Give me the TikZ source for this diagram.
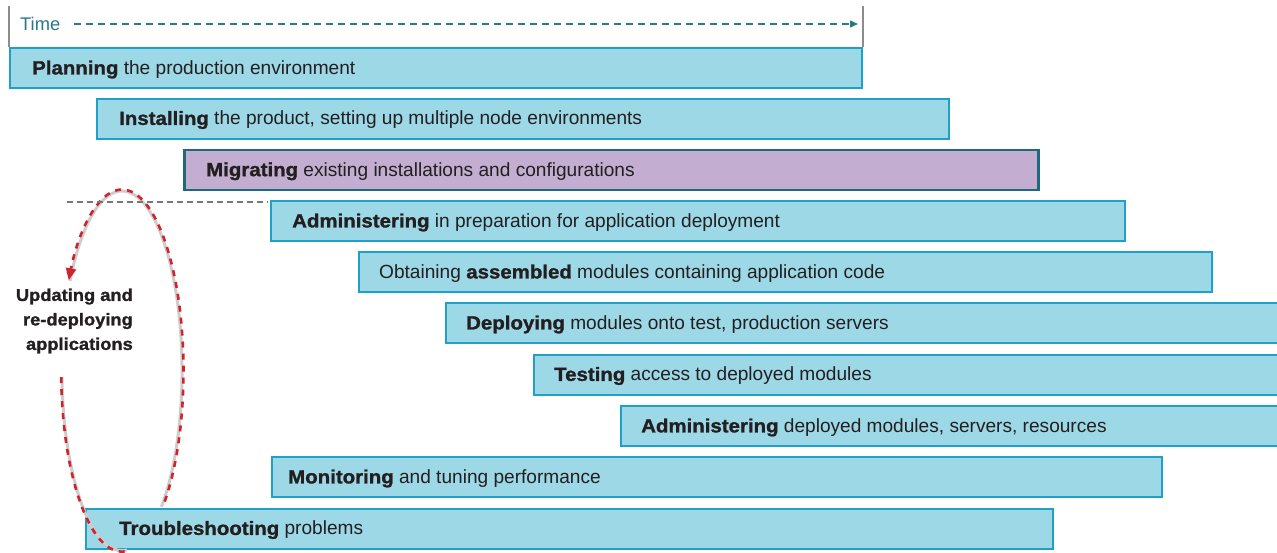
\documentclass[tikz,border=0pt]{standalone}
\usepackage{fontspec}
\setmainfont{Liberation Sans}
\newfontface\heavyfont{Liberation Sans Bold}[FakeStretch=1.07, FakeBold=1.2]
\newcommand\hv[1]{{\heavyfont #1}}
\usetikzlibrary{arrows.meta}
\definecolor{boxfill}{RGB}{157,216,231}
\definecolor{boxline}{RGB}{30,160,200}
\definecolor{purfill}{RGB}{195,173,208}
\definecolor{purline}{RGB}{30,105,125}
\definecolor{timecol}{RGB}{40,120,135}
\definecolor{txt}{RGB}{35,31,32}
\definecolor{redd}{RGB}{210,35,45}
\definecolor{ellgray}{RGB}{205,205,205}
\definecolor{axisgray}{RGB}{140,140,140}
\definecolor{sepgray}{RGB}{120,120,120}
\begin{document}
\begin{tikzpicture}[x=1pt,y=1pt,
  phase/.style={draw=boxline, fill=boxfill, line width=2pt, anchor=north west, inner sep=0pt, minimum height=40pt},
  migbox/.style={phase, draw=purline, fill=purfill, line width=2.5pt},
  phasetext/.style={anchor=west, inner sep=0pt, text=txt, font=\fontsize{19.1}{23}\selectfont, yshift=-1.5pt},
  ellarc/.style={ellgray, line width=3pt},
  redarc/.style={redd, line width=2.6pt, dash pattern=on 6pt off 6pt},
  axisline/.style={axisgray, line width=1.5pt},
  timearrow/.style={timecol, line width=1.3pt, dash pattern=on 7pt off 5pt, -{Triangle[length=8pt,width=7pt]}},
  sepline/.style={sepgray, line width=2.7pt, dash pattern=on 6pt off 4pt}]
\useasboundingbox (0,0) rectangle (1277,-552);

% time axis
\node[anchor=west, inner sep=0pt, text=timecol, font=\fontsize{18.3}{20}\selectfont] (time) at (20,-24) {Time};
\coordinate (tend) at (858,-24);
\draw[timearrow] ([xshift=14pt]time.east) -- (tend);

% upper part of cycle (under boxes)
\coordinate (uA) at (161.4,-506.8);
\coordinate (uB) at (164.7,-501.6);
\draw[ellarc] (uA) arc[start angle=-49, end angle=150, x radius=60, y radius=180];
\draw[redarc, -{Triangle[length=12pt,width=10pt]}] (uB) arc[start angle=-46, end angle=150, x radius=61.5, y radius=181.5];

% boxes
\node[phase, minimum width=852pt] (p1) at (9,-47) {};
\node[phasetext] (t1) at ([xshift=23pt]p1.west) {\hv{Planning} the production environment};
\draw[axisline] (p1.north west) -- ++(0,41);
\draw[axisline] (p1.north east) -- ++(0,41);

\node[phase, minimum width=852pt] (p2) at (96,-97.5) {};
\node[phasetext] (t2) at ([xshift=23pt]p2.west) {\hv{Installing} the product, setting up multiple node environments};

\node[migbox, minimum width=854pt] (p3) at (183,-148.5) {};
\node[phasetext] (t3) at ([xshift=23pt]p3.west) {\hv{Migrating} existing installations and configurations};

\node[phase, minimum width=854pt] (p4) at (270,-200) {};
\node[phasetext] (t4) at ([xshift=22pt]p4.west) {\hv{Administering} in preparation for application deployment};

\node[phase, minimum width=853pt] (p5) at (358,-251) {};
\node[phasetext] (t5) at ([xshift=21pt]p5.west) {Obtaining \hv{assembled} modules containing application code};

\node[phase, minimum width=845pt] (p6) at (445,-302) {};
\node[phasetext] (t6) at ([xshift=21pt]p6.west) {\hv{Deploying} modules onto test, production servers};

\node[phase, minimum width=757pt] (p7) at (533,-353.5) {};
\node[phasetext] (t7) at ([xshift=21pt]p7.west) {\hv{Testing} access to deployed modules};

\node[phase, minimum width=670pt] (p8) at (620,-405) {};
\node[phasetext] (t8) at ([xshift=21pt]p8.west) {\hv{Administering} deployed modules, servers, resources};

\node[phase, minimum width=890pt] (p9) at (271,-456) {};
\node[phasetext] (t9) at ([xshift=17pt]p9.west) {\hv{Monitoring} and tuning performance};

\node[phase, minimum width=967pt] (p10) at (85,-507.5) {};
\node[phasetext] (t10) at ([xshift=34pt]p10.west) {\hv{Troubleshooting} problems};

% lower part of cycle (over boxes)
\coordinate (lA) at (62,-377);
\coordinate (lB) at (61.2,-377.2);
\draw[ellarc] (lA) arc[start angle=182, end angle=275, x radius=60, y radius=180];
\draw[redarc] (lB) arc[start angle=182, end angle=274, x radius=60.8, y radius=180.8];

% separator line
\coordinate (s1) at (67,-202);
\coordinate (s2) at (268,-202);
\draw[sepline] (s1) -- (s2);

% label
\node[anchor=east, align=right, inner sep=0pt, text=txt, font=\heavyfont\fontsize{17.1}{24.5}\selectfont] (upd) at (133,-321) {Updating and\\re-deploying\\applications};
\end{tikzpicture}
\end{document}
